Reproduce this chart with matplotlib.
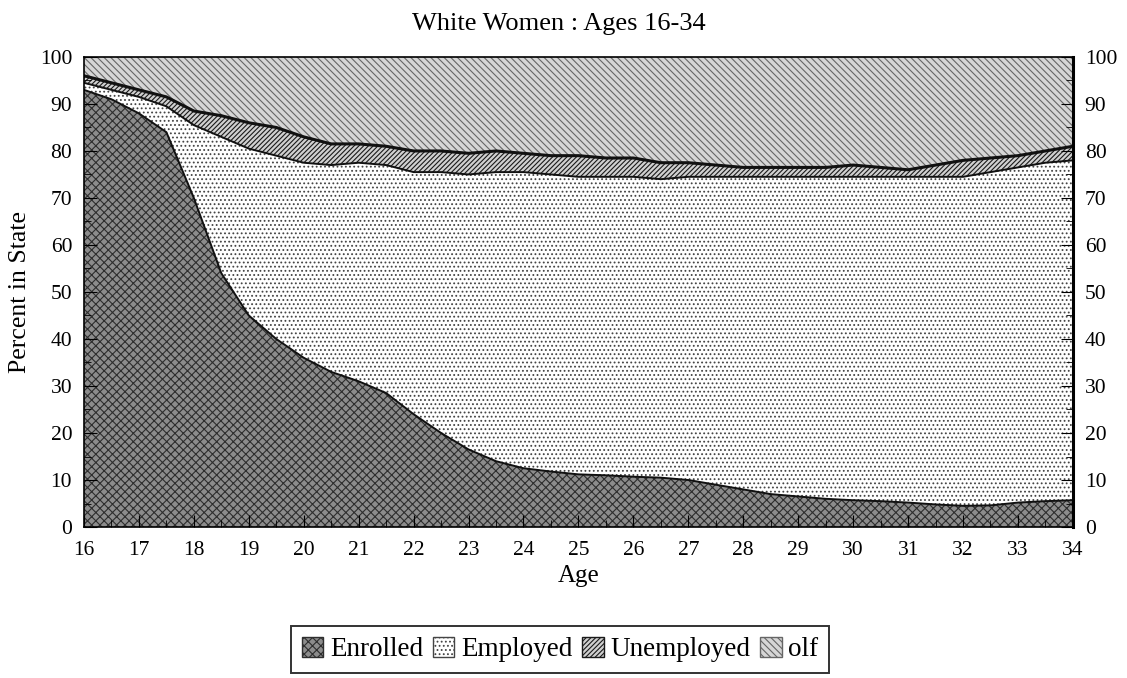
import numpy as np
import matplotlib
matplotlib.use("Agg")
import matplotlib.pyplot as plt
from matplotlib.patches import Patch
from matplotlib.ticker import MultipleLocator

# percent of white women in each state, by age (half-year steps)
age = [16, 16.5, 17, 17.5, 18, 18.5, 19, 19.5, 20, 20.5, 21, 21.5, 22, 22.5,
       23, 23.5, 24, 24.5, 25, 25.5, 26, 26.5, 27, 27.5, 28, 28.5, 29, 29.5,
       30, 30.5, 31, 31.5, 32, 32.5, 33, 33.5, 34]
enrolled = [93, 91, 88, 84, 70, 54, 45, 40, 36, 33, 31, 28.5, 24, 20, 16.5, 14,
            12.5, 11.8, 11.2, 11, 10.7, 10.5, 10, 9, 8, 7, 6.5, 6, 5.7, 5.5,
            5.2, 4.8, 4.5, 4.6, 5.2, 5.5, 5.7]
employed = [1.5, 2, 3.5, 5.5, 15.5, 29, 35.5, 39, 41.5, 44, 46.5, 48.5, 51.5,
            55.5, 58.5, 61.5, 63, 63.2, 63.3, 63.5, 63.8, 63.5, 64.5, 65.5,
            66.5, 67.5, 68, 68.5, 68.8, 69, 69.3, 69.7, 70, 70.9, 71.3, 72, 72.3]
unemployed = [1.5, 1.5, 1.5, 2, 3, 4.5, 5.5, 6, 5.5, 4.5, 4, 4, 4.5, 4.5, 4.5,
              4.5, 4, 4, 4.5, 4, 4, 3.5, 3, 2.5, 2, 2, 2, 2, 2.5, 2, 1.5, 2.5,
              3.5, 3, 2.5, 2.5, 3]
olf = [4, 5.5, 7, 8.5, 11.5, 12.5, 14, 15, 17, 18.5, 18.5, 19, 20, 20, 20.5,
       20, 20.5, 21, 21, 21.5, 21.5, 22.5, 22.5, 23, 23.5, 23.5, 23.5, 23.5,
       23, 23.5, 24, 23, 22, 21.5, 21, 20, 19]
states = ["Enrolled", "Employed", "Unemployed", "olf"]

# face colour, hatch, hatch colour per state (imitating the print patterns)
styles = [("#8c8c8c", "xxxx", "#2e2e2e"),
          ("white", "....", "#444444"),
          ("#d0d0d0", "///////", "#1a1a1a"),
          ("#d6d6d6", "\\\\\\\\\\", "#666666")]

plt.rcParams["font.family"] = ["Liberation Serif", "DejaVu Serif"]
plt.rcParams["hatch.linewidth"] = 0.8

fig = plt.figure(figsize=(11.27, 6.78), dpi=100)
ax = fig.add_axes([0.0745, 0.2227, 0.8775, 0.6933])

series = [enrolled, employed, unemployed, olf]
bottom = np.zeros(len(age))
handles = []
for name, vals, (fc, h, hc) in zip(states, series, styles):
    top = bottom + np.array(vals)
    ax.fill_between(age, bottom, top, facecolor=fc, hatch=h, edgecolor=hc,
                    linewidth=0)
    if name != "olf":
        ax.plot(age, top, color="#111111", lw=1.4 if name != "Unemployed" else 2.2)
    handles.append(Patch(facecolor=fc, hatch=h, edgecolor=hc, label=name))
    bottom = top

ax.set_xlim(16, 34)
ax.set_ylim(0, 100)
ax.xaxis.set_major_locator(MultipleLocator(1))
ax.xaxis.set_minor_locator(MultipleLocator(0.5))
ax.yaxis.set_major_locator(MultipleLocator(10))
ax.yaxis.set_minor_locator(MultipleLocator(5))
ax.tick_params(which="both", direction="in", left=True, right=True,
               labelright=True, top=False, labelsize=15.5, color="black")
ax.tick_params(which="major", length=9)
ax.tick_params(which="minor", length=5)
ax.tick_params(axis="x", which="major", pad=10)
ax.tick_params(axis="y", which="major", pad=8.5)
for s in ax.spines.values():
    s.set_linewidth(1.2)
ax.spines["right"].set_linewidth(2.2)

ax.set_xlabel("Age", fontsize=18, labelpad=4)
ax.set_ylabel("Percent in State", fontsize=18.5, labelpad=6)
fig.text(0.496, 0.965, "White Women : Ages 16-34", ha="center", va="center",
         fontsize=19)

leg = fig.legend(handles=handles, loc="center", bbox_to_anchor=(0.497, 0.042),
                 ncol=4, fontsize=19.5, frameon=True, fancybox=False,
                 edgecolor="black", handlelength=0.8, handleheight=0.8,
                 handletextpad=0.25, columnspacing=0.35, borderpad=0.4)
leg.get_frame().set_linewidth(1.4)

fig.savefig("out.png", dpi=100)
